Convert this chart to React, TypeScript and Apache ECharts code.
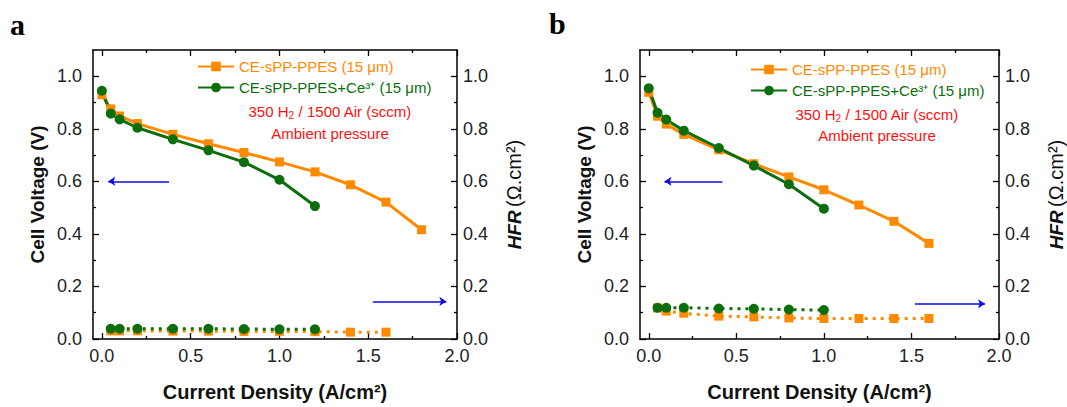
import React, { useEffect, useRef } from 'react';
import * as echarts from 'echarts';

// ---------- data ----------
const NAME_O = 'CE-sPP-PPES (15 μm)';
const NAME_G = 'CE-sPP-PPES+Ce³⁺ (15 μm)';

// Panel a
const curOrangeA = [0, 0.05, 0.1, 0.2, 0.4, 0.6, 0.8, 1.0, 1.2, 1.4, 1.6, 1.8];
const voltOrangeA = [0.93, 0.876, 0.849, 0.82, 0.779, 0.743, 0.71, 0.674, 0.636, 0.587, 0.521, 0.416];
const curGreenA = [0, 0.05, 0.1, 0.2, 0.4, 0.6, 0.8, 1.0, 1.2];
const voltGreenA = [0.945, 0.858, 0.836, 0.804, 0.76, 0.718, 0.673, 0.606, 0.506];
const hfrCurOrangeA = [0.05, 0.1, 0.2, 0.4, 0.6, 0.8, 1.0, 1.2, 1.4, 1.6];
const hfrOrangeA = [0.031, 0.031, 0.031, 0.03, 0.03, 0.029, 0.029, 0.028, 0.026, 0.026];
const hfrCurGreenA = [0.05, 0.1, 0.2, 0.4, 0.6, 0.8, 1.0, 1.2];
const hfrGreenA = [0.039, 0.039, 0.039, 0.039, 0.039, 0.038, 0.037, 0.037];

// Panel b
const curOrangeB = [0, 0.05, 0.1, 0.2, 0.4, 0.6, 0.8, 1.0, 1.2, 1.4, 1.6];
const voltOrangeB = [0.939, 0.848, 0.818, 0.779, 0.72, 0.667, 0.617, 0.568, 0.51, 0.448, 0.364];
const curGreenB = [0, 0.05, 0.1, 0.2, 0.4, 0.6, 0.8, 1.0];
const voltGreenB = [0.954, 0.861, 0.835, 0.793, 0.727, 0.66, 0.589, 0.496];
const hfrCurOrangeB = [0.05, 0.1, 0.2, 0.4, 0.6, 0.8, 1.0, 1.2, 1.4, 1.6];
const hfrOrangeB = [0.118, 0.106, 0.098, 0.087, 0.084, 0.08, 0.078, 0.078, 0.078, 0.078];
const hfrCurGreenB = [0.05, 0.1, 0.2, 0.4, 0.6, 0.8, 1.0];
const hfrGreenB = [0.119, 0.119, 0.119, 0.116, 0.115, 0.112, 0.11];

// Annotation arrows [x1, y1, x2, y2] (arrow head at x2,y2)
const arrowLeftA = [0.378, 0.6, 0.036, 0.6];
const arrowRightA = [1.526, 0.143, 1.94, 0.143];
const arrowLeftB = [0.42, 0.6, 0.09, 0.6];
const arrowRightB = [1.52, 0.134, 1.92, 0.134];

// Axis ticks
const X_MIN = -0.05;
const X_MAX = 2.0;
const X_MAJOR = [0, 0.5, 1.0, 1.5, 2.0];
const X_MINOR = [0.25, 0.75, 1.25, 1.75];
const Y_MIN = 0;
const Y_MAX = 1.1;
const Y_MAJOR = [0, 0.2, 0.4, 0.6, 0.8, 1.0];
const Y_MINOR = [0.1, 0.3, 0.5, 0.7, 0.9];

// ---------- styles ----------
const FONT = "'Liberation Sans', Arial, sans-serif";
const ORANGE = '#FF8A00';
const GREEN = '#0C6E0C';
const BLUE = '#0A0AE6';
const RED = '#FF1010';
const AXIS = '#000';

const lineAxis = { show: true, onZero: false, lineStyle: { color: AXIS, width: 1.5 } };
const fmt = (v: number) => v.toFixed(1);

function xAxes(grid: number) {
  const base: any = { type: 'value', gridIndex: grid, min: X_MIN, max: X_MAX, splitLine: { show: false } };
  const tickStyle = { color: AXIS, width: 1.3 };
  return [
    {
      ...base, position: 'bottom', axisLine: lineAxis,
      axisTick: { show: true, inside: true, length: 6, customValues: X_MAJOR, lineStyle: tickStyle },
      axisLabel: { show: true, customValues: X_MAJOR, formatter: fmt, fontSize: 18, color: '#222', margin: 8, fontFamily: FONT },
      name: 'Current Density (A/cm²)', nameLocation: 'middle', nameGap: 43,
      nameTextStyle: { fontSize: 20, fontWeight: 'bold', color: '#111', fontFamily: FONT },
    },
    {
      ...base, position: 'bottom', axisLine: { show: false, onZero: false },
      axisTick: { show: true, inside: true, length: 3, customValues: X_MINOR, lineStyle: tickStyle },
      axisLabel: { show: false },
    },
    {
      ...base, position: 'top', axisLine: lineAxis,
      axisTick: { show: true, inside: true, length: 6, customValues: X_MAJOR, lineStyle: tickStyle },
      axisLabel: { show: false },
    },
    {
      ...base, position: 'top', axisLine: { show: false, onZero: false },
      axisTick: { show: true, inside: true, length: 3, customValues: X_MINOR, lineStyle: tickStyle },
      axisLabel: { show: false },
    },
  ];
}

function yAxes(grid: number) {
  const base: any = { type: 'value', gridIndex: grid, min: Y_MIN, max: Y_MAX, splitLine: { show: false } };
  const tickStyle = { color: AXIS, width: 1.3 };
  return [
    {
      ...base, position: 'left', axisLine: lineAxis,
      axisTick: { show: true, inside: true, length: 6, customValues: Y_MAJOR, lineStyle: tickStyle },
      axisLabel: { show: true, customValues: Y_MAJOR, formatter: fmt, fontSize: 18, color: '#222', margin: 11, fontFamily: FONT },
      name: 'Cell Voltage (V)', nameLocation: 'middle', nameGap: 46, nameRotate: 90,
      nameTextStyle: { fontSize: 19, fontWeight: 'bold', color: '#111', fontFamily: FONT },
    },
    {
      ...base, position: 'left', axisLine: { show: false, onZero: false },
      axisTick: { show: true, inside: true, length: 3, customValues: Y_MINOR, lineStyle: tickStyle },
      axisLabel: { show: false },
    },
    {
      ...base, position: 'right', axisLine: lineAxis,
      axisTick: { show: true, inside: true, length: 6, customValues: Y_MAJOR, lineStyle: tickStyle },
      axisLabel: { show: true, customValues: Y_MAJOR, formatter: fmt, fontSize: 18, color: '#222', margin: 6, fontFamily: FONT },
      name: '{b|HFR} {n|(Ω.cm²)}', nameLocation: 'middle', nameGap: 47, nameRotate: 90,
      nameTextStyle: {
        color: '#111', fontFamily: FONT,
        rich: {
          b: { fontSize: 19, fontWeight: 'bold', fontStyle: 'italic', color: '#111', fontFamily: FONT },
          n: { fontSize: 20, color: '#111', fontFamily: FONT },
        },
      },
    },
    {
      ...base, position: 'right', axisLine: { show: false, onZero: false },
      axisTick: { show: true, inside: true, length: 3, customValues: Y_MINOR, lineStyle: tickStyle },
      axisLabel: { show: false },
    },
  ];
}

function series(name: string, xs: number[], ys: number[], color: string, symbol: string,
  xIdx: number, yIdx: number, dotted: boolean) {
  return {
    type: 'line', name, xAxisIndex: xIdx, yAxisIndex: yIdx,
    data: xs.map((x, i) => [x, ys[i]]),
    symbol, symbolSize: symbol === 'rect' ? 9 : 10,
    itemStyle: { color },
    lineStyle: { color, width: 3, type: dotted ? [3, 5] : 'solid', cap: 'butt' },
    emphasis: { disabled: true },
  };
}

function arrow(a: number[], xIdx: number, yIdx: number) {
  return {
    type: 'lines', coordinateSystem: 'cartesian2d', xAxisIndex: xIdx, yAxisIndex: yIdx,
    symbol: ['none', 'arrow'], symbolSize: 7, silent: true,
    lineStyle: { color: BLUE, width: 1.6, opacity: 1 },
    data: [{ coords: [[a[0], a[1]], [a[2], a[3]]] }],
  };
}

function legend(left: number, top: number) {
  return {
    left, top, orient: 'vertical', itemWidth: 36, itemHeight: 12, itemGap: 6, padding: 0,
    selectedMode: false,
    textStyle: { fontSize: 15, fontFamily: FONT },
    data: [
      { name: NAME_O, textStyle: { color: ORANGE } },
      { name: NAME_G, textStyle: { color: GREEN } },
    ],
  };
}

function conditionText(cx: number, y1: number, y2: number) {
  return [
    {
      type: 'text', x: cx, y: y1,
      style: {
        text: '{t|350 H}{s|2}{t| / 1500 Air (sccm)}',
        align: 'center', verticalAlign: 'middle',
        rich: {
          t: { fontSize: 15, fill: RED, fontFamily: FONT, lineHeight: 18 },
          s: { fontSize: 10, fill: RED, fontFamily: FONT, lineHeight: 18, verticalAlign: 'bottom', padding: [8, 0, 0, 0] },
        },
      },
    },
    {
      type: 'text', x: cx, y: y2,
      style: { text: 'Ambient pressure', align: 'center', verticalAlign: 'middle', fontSize: 15, fill: RED, fontFamily: FONT },
    },
  ];
}

export default function App() {
  const ref = useRef<HTMLDivElement>(null);
  useEffect(() => {
    if (!ref.current) return;
    const chart = echarts.init(ref.current, undefined, { renderer: 'svg' });
    const option: any = {
      animation: false,
      backgroundColor: '#fff',
      grid: [
        { left: 93, top: 50, width: 364, height: 294, show: false },
        { left: 640, top: 50, width: 365, height: 294, show: false },
      ],
      xAxis: [...xAxes(0), ...xAxes(1)],
      yAxis: [...yAxes(0), ...yAxes(1)],
      legend: [legend(197, 59), legend(750, 62)],
      series: [
        series('hfr-o-a', hfrCurOrangeA, hfrOrangeA, ORANGE, 'rect', 0, 2, true),
        series('hfr-g-a', hfrCurGreenA, hfrGreenA, GREEN, 'circle', 0, 2, true),
        series(NAME_O, curOrangeA, voltOrangeA, ORANGE, 'rect', 0, 0, false),
        series(NAME_G, curGreenA, voltGreenA, GREEN, 'circle', 0, 0, false),
        series('hfr-o-b', hfrCurOrangeB, hfrOrangeB, ORANGE, 'rect', 4, 6, true),
        series('hfr-g-b', hfrCurGreenB, hfrGreenB, GREEN, 'circle', 4, 6, true),
        series(NAME_O, curOrangeB, voltOrangeB, ORANGE, 'rect', 4, 4, false),
        series(NAME_G, curGreenB, voltGreenB, GREEN, 'circle', 4, 4, false),
        arrow(arrowLeftA, 0, 0),
        arrow(arrowRightA, 0, 2),
        arrow(arrowLeftB, 4, 4),
        arrow(arrowRightB, 4, 6),
      ],
      graphic: [
        { type: 'text', x: 10, y: 9, style: { text: 'a', font: 'bold 30px "Liberation Serif", "Times New Roman", serif', fill: '#000' } },
        { type: 'text', x: 549, y: 8, style: { text: 'b', font: 'bold 30px "Liberation Serif", "Times New Roman", serif', fill: '#000' } },
        ...conditionText(330, 111, 133),
        ...conditionText(877, 114, 135),
      ],
    };
    chart.setOption(option);
    return () => chart.dispose();
  }, []);
  return (
    <div
      ref={ref}
      style={{ position: 'absolute', left: 0, top: 0, width: 1067, height: 407, background: '#fff' }}
    />
  );
}
